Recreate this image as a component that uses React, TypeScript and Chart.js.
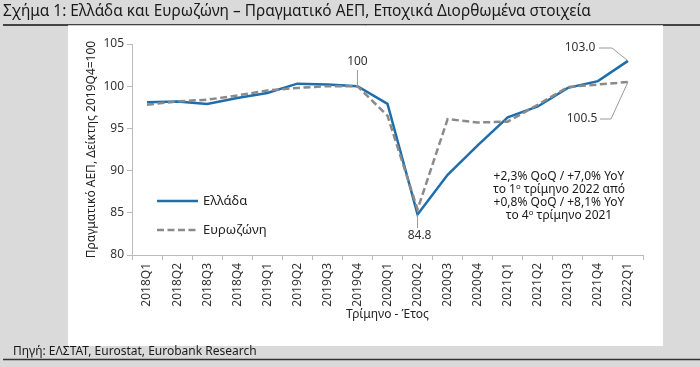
import React, { useEffect, useRef } from "react";
import { Chart, registerables } from "chart.js";

Chart.register(...registerables);

const categories = ["2018Q1","2018Q2","2018Q3","2018Q4","2019Q1","2019Q2","2019Q3","2019Q4","2020Q1","2020Q2","2020Q3","2020Q4","2021Q1","2021Q2","2021Q3","2021Q4","2022Q1"];
const greece = [98.1, 98.2, 97.9, 98.6, 99.2, 100.3, 100.2, 100.0, 97.9, 84.8, 89.5, 93.0, 96.3, 97.6, 99.8, 100.6, 103.0];
const eurozone = [97.8, 98.2, 98.4, 98.9, 99.5, 99.8, 100.0, 100.0, 96.5, 85.4, 96.1, 95.7, 95.8, 97.8, 99.9, 100.2, 100.5];
const yTicks = [80, 85, 90, 95, 100, 105];

const TITLE = "Σχήμα 1: Ελλάδα και Ευρωζώνη – Πραγματικό ΑΕΠ, Εποχικά Διορθωμένα στοιχεία";
const SOURCE = "Πηγή: ΕΛΣΤΑΤ, Eurostat, Eurobank Research";
const NOTE = ["+2,3% QoQ / +7,0% YoY", "το 1ᵒ τρίμηνο 2022 από", "+0,8% QoQ / +8,1% YoY", "το 4ᵒ τρίμηνο 2021"];
const FONT = "'Noto Sans', sans-serif";
const BLUE = "#1f6dab";
const GREY = "#8a8a8a";

const framePlugin = {
  id: "frame",
  beforeDraw(chart: any) {
    const ctx = chart.ctx;
    ctx.save();
    ctx.fillStyle = "#dadada";
    ctx.fillRect(0, 0, 700, 367);
    ctx.strokeStyle = "#111";
    ctx.lineWidth = 1.5;
    ctx.beginPath(); ctx.moveTo(3, 25); ctx.lineTo(700, 25); ctx.stroke();
    ctx.fillStyle = "#ffffff";
    ctx.fillRect(68, 26, 595, 320);
    ctx.strokeStyle = "#c8c8c8"; ctx.lineWidth = 1;
    ctx.beginPath(); ctx.moveTo(68, 25.5); ctx.lineTo(663, 25.5); ctx.stroke();
    ctx.fillStyle = "#1a1a1a";
    ctx.font = "15.4px " + FONT;
    ctx.textBaseline = "middle";
    ctx.textAlign = "left";
    ctx.fillText(TITLE, 3, 12);
    ctx.font = "12px " + FONT;
    ctx.fillText(SOURCE, 13, 352);
    ctx.strokeStyle = "#333"; ctx.lineWidth = 1.5;
    ctx.beginPath(); ctx.moveTo(3, 359.5); ctx.lineTo(700, 359.5); ctx.stroke();
    ctx.restore();
  },
  afterDatasetsDraw(chart: any) {
    const ctx = chart.ctx;
    const xs = chart.scales.x;
    const ys = chart.scales.y;
    ctx.save();
    ctx.fillStyle = "#333";
    ctx.font = "12px " + FONT;
    ctx.textAlign = "center";
    ctx.textBaseline = "middle";
    ctx.strokeStyle = "#999";
    ctx.lineWidth = 1;
    // 100 label
    const x7 = xs.getPixelForValue(7), y7 = ys.getPixelForValue(greece[7]);
    ctx.fillText("100", x7, 62);
    ctx.beginPath(); ctx.moveTo(x7, 70); ctx.lineTo(x7, y7); ctx.stroke();
    // 84.8 label
    const x9 = xs.getPixelForValue(9), y9 = ys.getPixelForValue(greece[9]);
    ctx.fillText("84.8", x9 + 2, 236);
    ctx.beginPath(); ctx.moveTo(x9, y9); ctx.lineTo(x9, 228); ctx.stroke();
    // 103.0 label
    const x16 = xs.getPixelForValue(16);
    const yg = ys.getPixelForValue(greece[16]);
    const ye = ys.getPixelForValue(eurozone[16]);
    ctx.fillText("103.0", 580, 48);
    ctx.beginPath(); ctx.moveTo(599, 48); ctx.lineTo(612, 48); ctx.lineTo(x16, yg); ctx.stroke();
    ctx.fillText("100.5", 582, 119);
    ctx.beginPath(); ctx.moveTo(600, 119); ctx.lineTo(611, 119); ctx.lineTo(x16, ye); ctx.stroke();
    // note
    ctx.fillStyle = "#1a1a1a";
    ctx.font = "12px " + FONT;
    NOTE.forEach((t, i) => ctx.fillText(t, 559, 177 + i * 13));
    // legend
    ctx.lineWidth = 2.5;
    ctx.strokeStyle = BLUE;
    ctx.beginPath(); ctx.moveTo(157, 201); ctx.lineTo(198, 201); ctx.stroke();
    ctx.strokeStyle = GREY;
    ctx.setLineDash([7, 3.5]);
    ctx.beginPath(); ctx.moveTo(157, 230); ctx.lineTo(198, 230); ctx.stroke();
    ctx.setLineDash([]);
    ctx.fillStyle = "#222";
    ctx.font = "13px " + FONT;
    ctx.textAlign = "left";
    ctx.fillText("Ελλάδα", 203, 201);
    ctx.fillText("Ευρωζώνη", 203, 230);
    ctx.restore();
  },
};

export default function App() {
  const ref = useRef<HTMLCanvasElement>(null);
  useEffect(() => {
    const chart = new Chart(ref.current!, {
      type: "line",
      data: {
        labels: categories,
        datasets: [
          { label: "Ευρωζώνη", data: eurozone, borderColor: GREY, borderWidth: 2.5, borderDash: [7, 3.5], pointRadius: 0, tension: 0, fill: false },
          { label: "Ελλάδα", data: greece, borderColor: BLUE, borderWidth: 2.5, pointRadius: 0, tension: 0, fill: false },
        ],
      },
      options: {
        responsive: false,
        animation: false,
        layout: { padding: { left: 80, top: 44, right: 57, bottom: 42 } },
        plugins: { legend: { display: false }, tooltip: { enabled: false } },
        scales: {
          x: {
            offset: true,
            grid: { offset: true, drawOnChartArea: false, color: "#bbb", tickLength: 5 },
            border: { color: "#bbb" },
            ticks: { minRotation: 90, maxRotation: 90, color: "#333", font: { family: FONT, size: 12 }, padding: 3 },
            title: { display: true, text: "Τρίμηνο - Έτος", color: "#222", font: { family: FONT, size: 12 }, padding: 3 },
            afterFit: (s: any) => { s.height = 70; },
          },
          y: {
            min: 80,
            max: 105,
            afterBuildTicks: (s: any) => { s.ticks = yTicks.map((v) => ({ value: v })); },
            grid: { drawOnChartArea: false, color: "#bbb", tickLength: 5 },
            border: { color: "#bbb" },
            ticks: { color: "#333", font: { family: FONT, size: 12 }, padding: 3 },
            title: { display: true, text: "Πραγματικό ΑΕΠ, Δείκτης 2019Q4=100", color: "#222", font: { family: FONT, size: 12 }, padding: 4 },
            afterFit: (s: any) => { s.width = 52; },
          },
        },
      },
      plugins: [framePlugin],
    });
    return () => chart.destroy();
  }, []);
  return (
    <div style={{ position: "fixed", left: 0, top: 0, width: 700, height: 367 }}>
      <canvas ref={ref} width={700} height={367} style={{ display: "block" }} />
    </div>
  );
}
